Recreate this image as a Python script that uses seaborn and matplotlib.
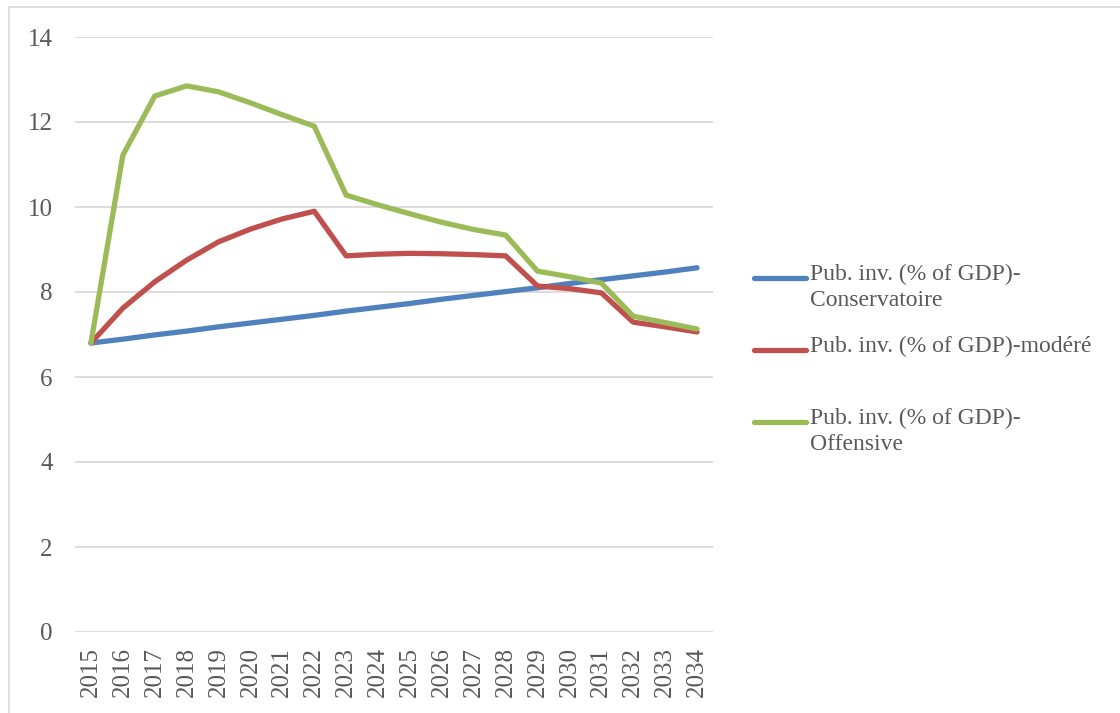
import matplotlib
matplotlib.use("Agg")
import matplotlib.pyplot as plt
from matplotlib.lines import Line2D
import seaborn as sns
import pandas as pd

years = [str(y) for y in range(2015, 2035)]
conservatoire = [6.80, 6.89, 6.99, 7.08, 7.18, 7.27, 7.36, 7.45, 7.55, 7.64,
                 7.73, 7.83, 7.92, 8.01, 8.10, 8.20, 8.29, 8.38, 8.47, 8.57]
modere = [6.80, 7.62, 8.24, 8.75, 9.18, 9.48, 9.72, 9.90, 8.85, 8.89,
          8.91, 8.90, 8.88, 8.85, 8.14, 8.08, 7.98, 7.29, 7.18, 7.06]
offensive = [6.80, 11.22, 12.61, 12.85, 12.71, 12.45, 12.17, 11.90, 10.28, 10.05,
             9.84, 9.64, 9.47, 9.34, 8.49, 8.36, 8.21, 7.43, 7.28, 7.13]
labels = ["Pub. inv. (% of GDP)-\nConservatoire",
          "Pub. inv. (% of GDP)-modéré",
          "Pub. inv. (% of GDP)-\nOffensive"]
colors = ["#4F81BD", "#C0504D", "#9BBB59"]
yticks = [0, 2, 4, 6, 8, 10, 12, 14]

sns.set_style("white")
plt.rcParams["font.family"] = ["Liberation Serif", "DejaVu Serif"]

df = pd.concat([
    pd.DataFrame({"year": years, "value": vals, "series": lab})
    for vals, lab in zip([conservatoire, modere, offensive], labels)
])

fig = plt.figure(figsize=(11.2, 7.13), dpi=100)
ax = fig.add_axes([75/1120, 1 - 632/713, (713-75)/1120, (632-37)/713])
sns.lineplot(data=df, x="year", y="value", hue="series", palette=colors,
             linewidth=3.8, ax=ax, legend=False, sort=False)
for ln in ax.get_lines():
    ln.set_solid_capstyle("round")
    ln.set_solid_joinstyle("round")

ax.set_xlim(-0.5, len(years) - 0.5)
ax.set_ylim(0, 14)
ax.set_yticks(yticks)
ax.set_yticklabels([str(t) for t in yticks])
ax.set_xlabel("")
ax.set_ylabel("")
ax.grid(axis="y", color="#D9D9D9", linewidth=1.3)
ax.grid(axis="x", visible=False)
ax.set_axisbelow(True)
for s in ax.spines.values():
    s.set_visible(False)
ax.tick_params(axis="y", length=0, pad=16, labelsize=18, labelcolor="#595959")
ax.tick_params(axis="x", length=0, pad=11, labelsize=18, labelcolor="#595959",
               labelrotation=90)

# chart border (left and top visible)
fig.add_artist(Line2D([9/1120, 9/1120], [0, 1 - 7/713], color="#D9D9D9", lw=1.2))
fig.add_artist(Line2D([9/1120, 1], [1 - 7/713, 1 - 7/713], color="#D9D9D9", lw=1.2))

# legend
entry_y = [278, 350, 422]
for y, lab, c in zip(entry_y, labels, colors):
    yf = 1 - y/713
    fig.add_artist(Line2D([754/1120, 806/1120], [yf, yf], color=c, lw=3.8,
                          solid_capstyle="round"))
    fig.text(810/1120, yf + 14/713, lab, ha="left", va="top", fontsize=17,
             color="#595959", linespacing=1.32)

fig.savefig("out.png", dpi=100)
